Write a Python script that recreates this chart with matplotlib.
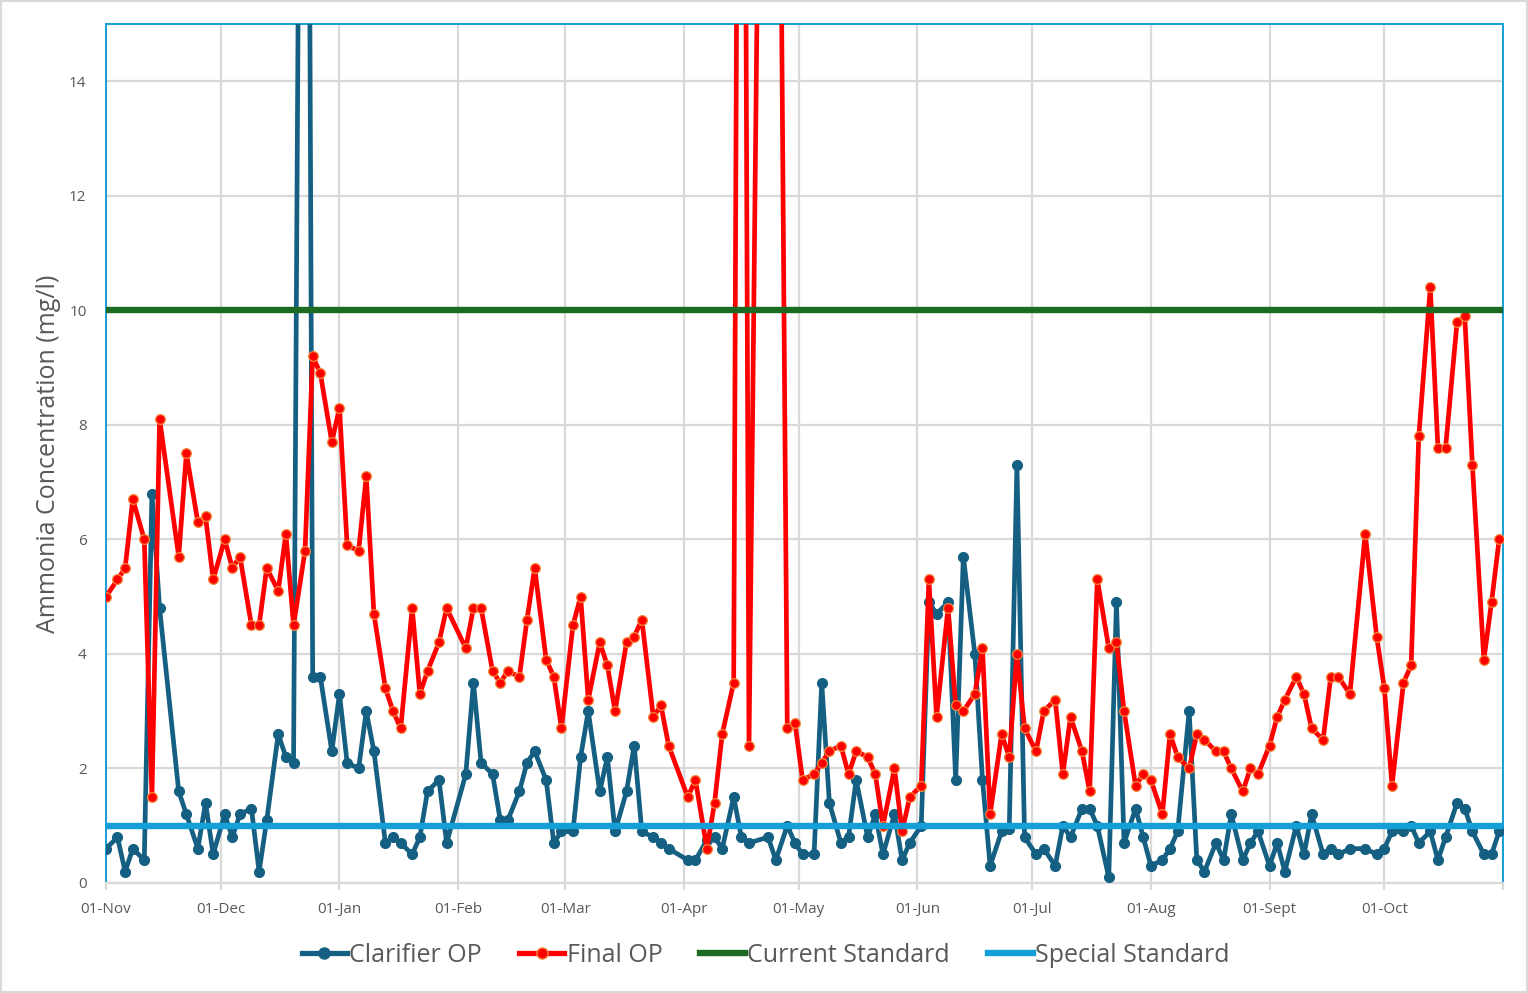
import matplotlib
matplotlib.use("Agg")
import matplotlib.pyplot as plt
from matplotlib.lines import Line2D
import matplotlib.patches as mpatches
import pandas as pd

plt.rcParams['font.family'] = ['Open Sans', 'DejaVu Sans']

start_date = "2024-11-01"
# sampling days (offset in days from 01-Nov)
sample_day = [0, 3, 5, 7, 10, 12, 14, 19, 21, 24, 26, 28, 31, 33, 35, 38, 40, 42, 45, 47,
              49, 52, 54, 56, 59, 61, 63, 66, 68, 70, 73, 75, 77, 80, 82, 84, 87, 89, 94, 96,
              98, 101, 103, 105, 108, 110, 112, 115, 117, 119, 122, 124, 126, 129, 131, 133, 136, 138, 140, 143,
              145, 147, 152, 154, 157, 159, 161, 164, 166, 168, 173, 175, 178, 180, 182, 185, 187, 189, 192, 194,
              196, 199, 201, 203, 206, 208, 210, 213, 215, 217, 220, 222, 224, 227, 229, 231, 234, 236, 238, 240,
              243, 245, 248, 250, 252, 255, 257, 259, 262, 264, 266, 269, 271, 273, 276, 278, 280, 283, 285, 287,
              290, 292, 294, 297, 299, 301, 304, 306, 308, 311, 313, 315, 318, 320, 322, 325, 329, 332, 334, 336,
              339, 341, 343, 346, 348, 350, 353, 355, 357, 360, 362, 364]

clarifier_op = [0.6, 0.8, 0.2, 0.6, 0.4, 6.8, 4.8, 1.6, 1.2, 0.6, 1.4, 0.5, 1.2, 0.8, 1.2, 1.3, 0.2, 1.1, 2.6, 2.2,
                2.1, 35.0, 3.6, 3.6, 2.3, 3.3, 2.1, 2.0, 3.0, 2.3, 0.7, 0.8, 0.7, 0.5, 0.8, 1.6, 1.8, 0.7, 1.9, 3.5,
                2.1, 1.9, 1.1, 1.1, 1.6, 2.1, 2.3, 1.8, 0.7, 0.9, 0.9, 2.2, 3.0, 1.6, 2.2, 0.9, 1.6, 2.4, 0.9, 0.8,
                0.7, 0.6, 0.4, 0.4, 0.75, 0.8, 0.6, 1.5, 0.8, 0.7, 0.8, 0.4, 1.0, 0.7, 0.5, 0.5, 3.5, 1.4, 0.7, 0.8,
                1.8, 0.8, 1.2, 0.5, 1.2, 0.4, 0.7, 1.0, 4.9, 4.7, 4.9, 1.8, 5.7, 4.0, 1.8, 0.3, 0.9, 0.95, 7.3, 0.8,
                0.5, 0.6, 0.3, 1.0, 0.8, 1.3, 1.3, 1.0, 0.1, 4.9, 0.7, 1.3, 0.8, 0.3, 0.4, 0.6, 0.9, 3.0, 0.4, 0.2,
                0.7, 0.4, 1.2, 0.4, 0.7, 0.9, 0.3, 0.7, 0.2, 1.0, 0.5, 1.2, 0.5, 0.6, 0.5, 0.6, 0.6, 0.5, 0.6, 0.9,
                0.9, 1.0, 0.7, 0.9, 0.4, 0.8, 1.4, 1.3, 0.9, 0.5, 0.5, 0.9]

final_op = [5.0, 5.3, 5.5, 6.7, 6.0, 1.5, 8.1, 5.7, 7.5, 6.3, 6.4, 5.3, 6.0, 5.5, 5.7, 4.5, 4.5, 5.5, 5.1, 6.1,
            4.5, 5.8, 9.2, 8.9, 7.7, 8.3, 5.9, 5.8, 7.1, 4.7, 3.4, 3.0, 2.7, 4.8, 3.3, 3.7, 4.2, 4.8, 4.1, 4.8,
            4.8, 3.7, 3.5, 3.7, 3.6, 4.6, 5.5, 3.9, 3.6, 2.7, 4.5, 5.0, 3.2, 4.2, 3.8, 3.0, 4.2, 4.3, 4.6, 2.9,
            3.1, 2.4, 1.5, 1.8, 0.6, 1.4, 2.6, 3.5, 35.0, 2.4, 33.0, 28.0, 2.7, 2.8, 1.8, 1.9, 2.1, 2.3, 2.4, 1.9,
            2.3, 2.2, 1.9, 1.0, 2.0, 0.9, 1.5, 1.7, 5.3, 2.9, 4.8, 3.1, 3.0, 3.3, 4.1, 1.2, 2.6, 2.2, 4.0, 2.7,
            2.3, 3.0, 3.2, 1.9, 2.9, 2.3, 1.6, 5.3, 4.1, 4.2, 3.0, 1.7, 1.9, 1.8, 1.2, 2.6, 2.2, 2.0, 2.6, 2.5,
            2.3, 2.3, 2.0, 1.6, 2.0, 1.9, 2.4, 2.9, 3.2, 3.6, 3.3, 2.7, 2.5, 3.6, 3.6, 3.3, 6.1, 4.3, 3.4, 1.7,
            3.5, 3.8, 7.8, 10.4, 7.6, 7.6, 9.8, 9.9, 7.3, 3.9, 4.9, 6.0]

current_standard = 10.0
special_standard = 1.0

month_labels = ['01-Nov', '01-Dec', '01-Jan', '01-Feb', '01-Mar', '01-Apr', '01-May',
                '01-Jun', '01-Jul', '01-Aug', '01-Sept', '01-Oct', '']
y_ticks = [0, 2, 4, 6, 8, 10, 12, 14]

t0 = pd.Timestamp(start_date)
dates = [t0 + pd.Timedelta(days=d) for d in sample_day]
month_starts = pd.date_range(t0, periods=len(month_labels), freq='MS')
x_end = month_starts[-1]

c_blue = '#156082'
c_red = '#FF0000'
c_red_edge = '#F08A3A'
c_green = '#1B6B23'
c_light = '#14A0D6'
c_grid = '#D9D9D9'
c_text = '#595959'

fig = plt.figure(figsize=(15.28, 9.93), dpi=100)
ax = fig.add_axes([106/1528, 1-883/993, (1503-106)/1528, (883-24)/993])

ax.plot(dates, clarifier_op, color=c_blue, lw=3.4, marker='o', ms=7,
        mfc=c_blue, mec=c_blue, zorder=3, solid_joinstyle='round')
ax.plot(dates, final_op, color=c_red, lw=3.4, marker='o', ms=7,
        mfc=c_red, mec=c_red_edge, mew=0.9, zorder=4, solid_joinstyle='round')
ax.plot([t0, x_end], [current_standard, current_standard], color=c_green, lw=4.6, zorder=5)
ax.plot([t0, x_end], [special_standard, special_standard], color=c_light, lw=4.6, zorder=5)

ax.set_xlim(t0, x_end)
ax.set_ylim(0, 15)
ax.set_yticks(y_ticks)
ax.set_xticks(month_starts)
ax.set_xticklabels(month_labels)

ax.grid(True, color=c_grid, lw=1.6, zorder=0)
ax.set_axisbelow(True)

for s in ['left', 'top', 'right']:
    ax.spines[s].set_color(c_light)
    ax.spines[s].set_linewidth(1.4)
ax.spines['bottom'].set_color(c_grid)
ax.spines['bottom'].set_linewidth(1.6)

ax.tick_params(axis='x', colors=c_text, labelsize=11, length=5, width=1.6, color=c_grid, pad=9)
ax.tick_params(axis='y', colors=c_text, labelsize=11, length=0, pad=14)
for lab in ax.get_xticklabels() + ax.get_yticklabels():
    lab.set_color(c_text)

ax.set_ylabel('Ammonia Concentration (mg/l)', fontsize=18, color=c_text, labelpad=6)

handles = [
    Line2D([], [], color=c_blue, lw=3.8, marker='o', ms=8, mfc=c_blue, mec=c_blue),
    Line2D([], [], color=c_red, lw=3.8, marker='o', ms=8, mfc=c_red, mec=c_red_edge),
    Line2D([], [], color=c_green, lw=4.6),
    Line2D([], [], color=c_light, lw=4.6),
]
labels = ['Clarifier OP', 'Final OP', 'Current Standard', 'Special Standard']
fig.legend(handles, labels, loc='center', bbox_to_anchor=(0.501, 0.038), ncol=4,
           frameon=False, fontsize=18, handlelength=1.8, handletextpad=0.1,
           columnspacing=1.5, labelcolor=c_text)

# outer frame
fig.patches.append(mpatches.Rectangle((0.0005, 0.0008), 0.999, 0.998, transform=fig.transFigure,
                                      fill=False, edgecolor=c_grid, lw=1.5))

fig.savefig('out.png', dpi=100)
